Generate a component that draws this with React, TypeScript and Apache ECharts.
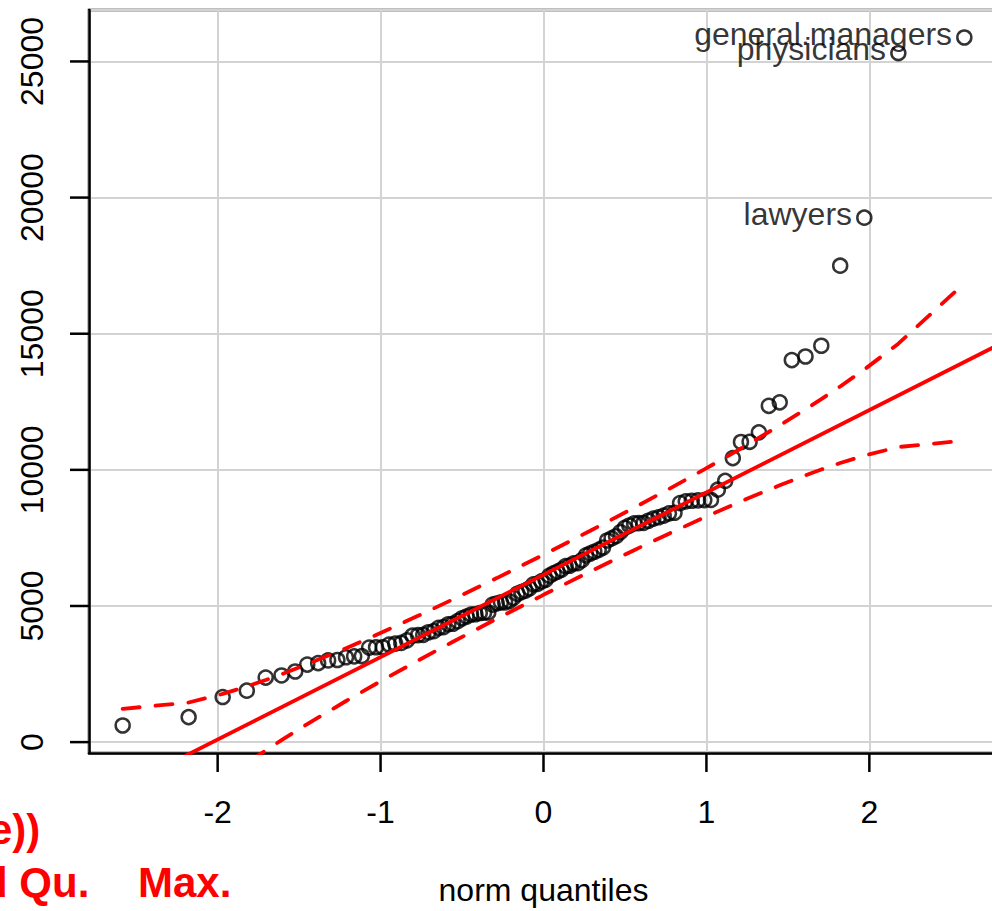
import React, { useEffect, useRef } from "react";
import * as echarts from "echarts";

// Sorted incomes (sample quantiles)
const incomeSorted = [
  611, 918, 1656, 1890, 2370, 2448, 2594, 2847, 2901, 3000,
  3016, 3116, 3148, 3161, 3472, 3485, 3485, 3582, 3617, 3643,
  3739, 3910, 3930, 3942, 4036, 4075, 4199, 4224, 4330, 4348,
  4443, 4549, 4614, 4686, 4696, 4741, 4753, 4761, 5052, 5092,
  5134, 5134, 5180, 5299, 5449, 5511, 5562, 5648, 5795, 5811,
  5902, 5959, 6112, 6197, 6259, 6336, 6462, 6477, 6565, 6573,
  6686, 6860, 6928, 6992, 7059, 7147, 7405, 7482, 7562, 7716,
  7869, 7956, 8034, 8043, 8049, 8131, 8206, 8258, 8316, 8403,
  8425, 8780, 8845, 8865, 8880, 8891, 8895, 9271, 9593, 10432,
  11023, 11030, 11377, 12351, 12480, 14032, 14163, 14558, 17498, 19263,
  25308, 25879,
];

// Theoretical normal quantiles (x positions)
const normQuantiles = [
  -2.583, -2.178, -1.969, -1.821, -1.705, -1.608, -1.524, -1.45, -1.383, -1.322,
  -1.265, -1.212, -1.162, -1.115, -1.07, -1.028, -0.987, -0.948, -0.91, -0.873,
  -0.838, -0.804, -0.77, -0.738, -0.706, -0.674, -0.644, -0.614, -0.584, -0.556,
  -0.527, -0.499, -0.472, -0.445, -0.418, -0.391, -0.365, -0.339, -0.312, -0.287,
  -0.261, -0.236, -0.21, -0.185, -0.16, -0.136, -0.111, -0.086, -0.0615, -0.0369,
  -0.0123,
  0.0123, 0.0369, 0.0615, 0.086, 0.111, 0.136, 0.16, 0.185, 0.21, 0.236,
  0.261, 0.287, 0.312, 0.339, 0.365, 0.391, 0.418, 0.445, 0.472, 0.499,
  0.527, 0.556, 0.584, 0.614, 0.644, 0.674, 0.706, 0.738, 0.77, 0.804,
  0.838, 0.873, 0.91, 0.948, 0.987, 1.028, 1.07, 1.115, 1.162, 1.212,
  1.265, 1.322, 1.383, 1.45, 1.524, 1.608, 1.705, 1.821, 1.969, 2.178,
  2.583,
];

// Labelled points
const labelNames = ["lawyers", "physicians", "general.managers"];
const labelValues = [19263, 25308, 25879];

// Reference line endpoints
const refLineX = [-2.7896, 2.7896];
const refLineY = [-2293, 14586];

// Confidence envelope
const envZ = [
  -2.583, -2.178, -1.969, -1.821, -1.705, -1.608, -1.45, -1.212, -0.987, -0.77,
  -0.556, -0.287, -0.012, 0.012, 0.287, 0.556, 0.77, 0.987, 1.212, 1.45,
  1.608, 1.705, 1.821, 1.969, 2.178, 2.583,
];
const envUpper = [
  1221, 1455, 1771, 2043, 2281, 2493, 2859, 3450, 4042, 4638,
  5243, 6025, 6845, 6920, 7762, 8607, 9297, 10015, 10784, 11632,
  12222, 12598, 13062, 13685, 14634, 16851,
];
const envLower = [
  -4558, -2341, -1392, -769, -305, 71, 661, 1510, 2278, 2996,
  3686, 4531, 5373, 5448, 6268, 7050, 7655, 8251, 8843, 9434,
  9800, 10012, 10250, 10522, 10838, 11072,
];

// Axis ticks
const xTicks = [-2, -1, 0, 1, 2];
const yTicks = [0, 5000, 10000, 15000, 20000, 25000];
const xRange = [-2.7896, 2.7896];
const yRange = [-399.7, 26889.7];

const FONT = '"Liberation Sans", Arial, Helvetica, sans-serif';
const TICK_LEN = 19;

export default function App() {
  const ref = useRef<HTMLDivElement>(null);

  useEffect(() => {
    if (!ref.current) return;
    const chart = echarts.init(ref.current, undefined, { renderer: "svg" });

    const points = incomeSorted.map((v, i) => {
      const li = labelValues.indexOf(v);
      if (li >= 0) {
        return {
          value: [normQuantiles[i], v],
          name: labelNames[li],
          label: { show: true },
        };
      }
      return { value: [normQuantiles[i], v] };
    });

    const axisLineStyle = { color: "#000", width: 2.5 };

    const textGraphics: any[] = [
      {
        type: "text",
        id: "t1",
        x: -11,
        y: 829,
        style: {
          text: "e))",
          fill: "#ff0000",
          font: `bold 42px ${FONT}`,
          textAlign: "left",
          textVerticalAlign: "middle",
          align: "left",
          verticalAlign: "middle",
        },
      },
      {
        type: "text",
        id: "t2",
        x: -18,
        y: 882,
        style: {
          text: "d Qu.",
          fill: "#ff0000",
          font: `bold 42px ${FONT}`,
          textAlign: "left",
          textVerticalAlign: "middle",
          align: "left",
          verticalAlign: "middle",
        },
      },
      {
        type: "text",
        id: "t3",
        x: 138,
        y: 882,
        style: {
          text: "Max.",
          fill: "#ff0000",
          font: `bold 42px ${FONT}`,
          textAlign: "left",
          textVerticalAlign: "middle",
          align: "left",
          verticalAlign: "middle",
        },
      },
    ];

    const option: any = {
      animation: false,
      backgroundColor: "#ffffff",
      grid: {
        left: 89,
        top: 10,
        width: 909,
        height: 743,
        show: true,
        borderColor: "#000000",
        borderWidth: 2.5,
        backgroundColor: "transparent",
        containLabel: false,
        outerBoundsMode: "none",
      },
      xAxis: {
        type: "value",
        position: "bottom",
        min: xRange[0],
        max: xRange[1],
        name: "norm quantiles",
        nameLocation: "middle",
        nameGap: 121,
        nameTextStyle: { fontSize: 32, color: "#000", fontFamily: FONT },
        axisLine: { show: true, onZero: false, lineStyle: axisLineStyle },
        axisTick: { show: false },
        axisLabel: {
          show: true,
          customValues: xTicks,
          fontSize: 32,
          color: "#000",
          fontFamily: FONT,
          margin: 43,
          formatter: (v: number) => String(v),
        },
        splitLine: {
          show: true,
          lineStyle: { color: "#d3d3d3", width: 2 },
        },
      },
      yAxis: {
        type: "value",
        position: "left",
        min: yRange[0],
        max: yRange[1],
        axisLine: { show: true, onZero: false, lineStyle: axisLineStyle },
        axisTick: { show: false },
        axisLabel: {
          show: true,
          customValues: yTicks,
          rotate: 90,
          fontSize: 32,
          color: "#000",
          fontFamily: FONT,
          margin: 41,
          formatter: (v: number) => String(v),
        },
        splitLine: {
          show: true,
          lineStyle: { color: "#d3d3d3", width: 2 },
        },
      },
      series: [
        {
          type: "scatter",
          name: "income",
          data: points,
          symbol: "circle",
          symbolSize: 14,
          itemStyle: { color: "rgba(0,0,0,0)", borderColor: "#000", borderWidth: 2.5 },
          label: {
            show: false,
            position: "left",
            distance: 4,
            offset: [0, -4],
            formatter: "{b}",
            fontSize: 32,
            color: "#000",
            fontFamily: FONT,
          },
          emphasis: { disabled: true },
          z: 2,
        },
        {
          type: "line",
          name: "reference",
          data: refLineX.map((x, i) => [x, refLineY[i]]),
          showSymbol: false,
          clip: true,
          lineStyle: { color: "#ff0000", width: 3.8, cap: "round" },
          z: 3,
        },
        {
          type: "line",
          name: "upper",
          data: envZ.map((x, i) => [x, envUpper[i]]),
          showSymbol: false,
          clip: true,
          lineStyle: { color: "#ff0000", width: 3.8, type: [17, 16], cap: "round" },
          z: 3,
        },
        {
          type: "line",
          name: "lower",
          data: envZ.map((x, i) => [x, envLower[i]]),
          showSymbol: false,
          clip: true,
          lineStyle: { color: "#ff0000", width: 3.8, type: [17, 16], cap: "round" },
          z: 3,
        },
      ],
      graphic: textGraphics,
    };

    chart.setOption(option);

    // Tick marks placed through the chart's own scales
    const tickGraphics: any[] = [];
    xTicks.forEach((v, i) => {
      const p = chart.convertToPixel({ gridIndex: 0 }, [v, yRange[0]]) as number[];
      tickGraphics.push({
        type: "line",
        id: "xt" + i,
        z: 100,
        shape: { x1: p[0], y1: p[1], x2: p[0], y2: p[1] + TICK_LEN },
        style: { stroke: "#000000", lineWidth: 2.5 },
        silent: true,
      });
    });
    yTicks.forEach((v, i) => {
      const p = chart.convertToPixel({ gridIndex: 0 }, [xRange[0], v]) as number[];
      tickGraphics.push({
        type: "line",
        id: "yt" + i,
        z: 100,
        shape: { x1: p[0] - TICK_LEN, y1: p[1], x2: p[0], y2: p[1] },
        style: { stroke: "#000000", lineWidth: 2.5 },
        silent: true,
      });
    });
    chart.setOption({ graphic: textGraphics.concat(tickGraphics) });

    return () => {
      chart.dispose();
    };
  }, []);

  return (
    <div
      ref={ref}
      style={{ position: "fixed", left: 0, top: 0, width: 1000, height: 911, background: "#fff" }}
    />
  );
}
